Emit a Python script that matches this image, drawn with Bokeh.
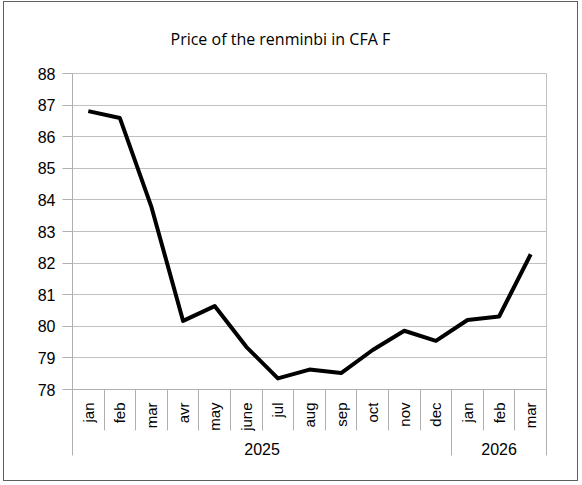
import math
from bokeh.plotting import figure
from bokeh.models import Range1d, FixedTicker, LinearAxis, Grid
from bokeh.embed import file_html
from bokeh.resources import INLINE

# ---- data ----
title_text = "Price of the renminbi in CFA F"
months = ["jan", "feb", "mar", "avr", "may", "june", "jul", "aug", "sep",
          "oct", "nov", "dec", "jan", "feb", "mar"]
years = ["2025", "2026"]
year_counts = [12, 3]
prices = [86.81, 86.59, 83.77, 80.17, 80.64, 79.35, 78.35, 78.63, 78.52,
          79.25, 79.86, 79.54, 80.20, 80.31, 82.28]
y_ticks = list(range(78, 89))

n = len(months)
xs = [i + 0.5 for i in range(n)]
bounds = list(range(n + 1))
year_bounds = [0]
for c in year_counts:
    year_bounds.append(year_bounds[-1] + c)
year_centers = [(year_bounds[i] + year_bounds[i + 1]) / 2 for i in range(len(years))]

GRID = "#c0c0c0"
AXIS = "#b0b0b0"
BORDER = "#606060"
FONT = "Liberation Sans"

W, H = 582, 485
FL, FR, FT, FB = 72, 546, 73, 389  # frame edges in canvas px

p = figure(width=W, height=H, output_backend="svg", toolbar_location=None,
           x_range=Range1d(0, n), y_range=Range1d(78, 88),
           x_axis_type=None, y_axis_type=None,
           min_border_left=FL, min_border_right=W - FR, min_border_top=FT,
           min_border_bottom=H - FB)
# outer chart border (drawn as CSS background lines behind a transparent canvas)
g = f"linear-gradient({BORDER},{BORDER})"
p.styles = {
    "background-color": "white",
    "background-image": ", ".join([g] * 4),
    "background-size": "575px 1px, 575px 1px, 1px 480px, 1px 480px",
    "background-position": "3px 1px, 3px 480px, 3px 1px, 577px 1px",
    "background-repeat": "no-repeat",
}
p.background_fill_color = "white"
p.border_fill_color = None
p.outline_line_color = GRID
p.outline_line_width = 1

p.title.text = title_text
p.title.align = "left"
p.title.offset = 170 - FL
p.title.standoff = 48
p.title.text_font = "Open Sans"
p.title.text_font_size = "16px"
p.title.text_font_style = "normal"
p.title.text_color = "black"

# y axis
yax = LinearAxis(ticker=FixedTicker(ticks=y_ticks, minor_ticks=[]))
yax.axis_line_color = AXIS
yax.major_tick_line_color = AXIS
yax.major_tick_out = 10
yax.major_tick_in = 0
yax.minor_tick_line_color = None
yax.major_label_standoff = 7
yax.major_label_text_font = FONT
yax.major_label_text_font_size = "16px"
yax.major_label_text_color = "black"
p.add_layout(yax, "left")

# month axis
xax = LinearAxis(ticker=FixedTicker(ticks=xs, minor_ticks=bounds))
xax.major_label_overrides = {x: m for x, m in zip(xs, months)}
xax.axis_line_color = AXIS
xax.major_tick_line_color = None
xax.major_tick_out = 0
xax.major_tick_in = 0
xax.minor_tick_line_color = AXIS
xax.minor_tick_out = 41
xax.minor_tick_in = 0
xax.major_label_orientation = math.pi / 2
xax.major_label_standoff = -28
xax.major_label_text_font = FONT
xax.major_label_text_font_size = "15px"
xax.major_label_text_color = "black"
p.add_layout(xax, "below")

# year axis
yrax = LinearAxis(ticker=FixedTicker(ticks=year_centers, minor_ticks=year_bounds))
yrax.major_label_overrides = {x: y for x, y in zip(year_centers, years)}
yrax.axis_line_color = None
yrax.major_tick_line_color = None
yrax.major_tick_out = 0
yrax.major_tick_in = 0
yrax.minor_tick_line_color = AXIS
yrax.minor_tick_in = 42
yrax.minor_tick_out = 22
yrax.major_label_standoff = -13
yrax.major_label_text_font = FONT
yrax.major_label_text_font_size = "16px"
yrax.major_label_text_color = "black"
p.add_layout(yrax, "below")

# grid
p.add_layout(Grid(dimension=1, ticker=yax.ticker, grid_line_color=GRID, grid_line_width=1))

# line
p.line(xs, prices, line_color="black", line_width=4, line_join="round", line_cap="butt")

open("out.html", "w").write(file_html(p, INLINE))
